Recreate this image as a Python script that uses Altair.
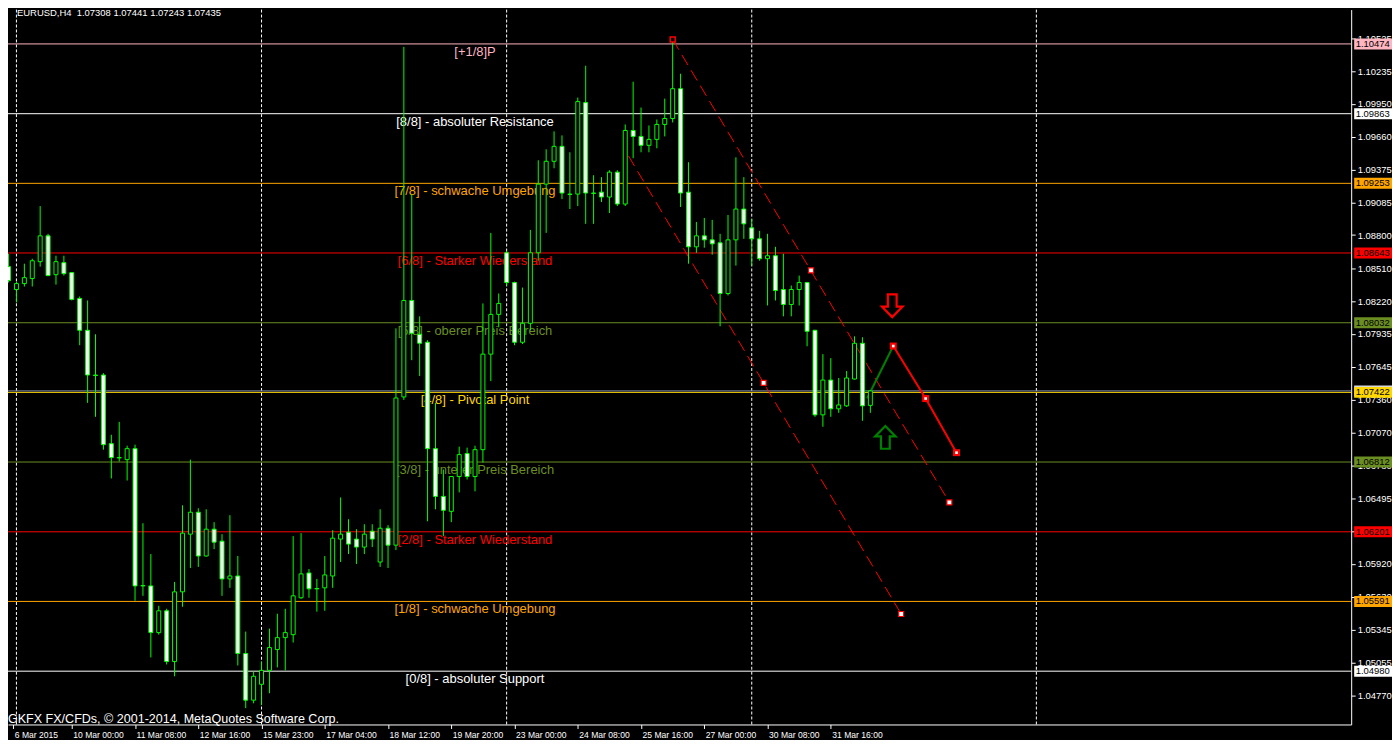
import altair as alt
import pandas as pd

# ---------------- data ----------------
opens = [1.08523, 1.08323, 1.08375, 1.08419, 1.08567, 1.08793, 1.08453, 1.08558, 1.08471, 1.08244,
         1.07966, 1.07574, 1.07574, 1.06973, 1.06851, 1.06833, 1.06929, 1.05727, 1.05727, 1.05318,
         1.05509, 1.05065, 1.05675, 1.06180, 1.06372, 1.05989, 1.06224, 1.06119, 1.05788, 1.05814,
         1.05135, 1.04726, 1.04865, 1.04987, 1.05170, 1.05274, 1.05300, 1.05623, 1.05840, 1.05701,
         1.05710, 1.05814, 1.06137, 1.06198, 1.06137, 1.06067, 1.06206, 1.05936, 1.06232, 1.06084,
         1.07382, 1.08227, 1.07931, 1.07861, 1.06929, 1.06511, 1.06380, 1.06685, 1.06886, 1.06685,
         1.06920, 1.07757, 1.08105, 1.08645, 1.08384, 1.07861, 1.08027, 1.08645, 1.09246, 1.09446,
         1.09577, 1.09159, 1.09159, 1.09960, 1.09168, 1.09176, 1.09133, 1.09351, 1.09072, 1.09716,
         1.09664, 1.09586, 1.09638, 1.09769, 1.09821, 1.10082, 1.09176, 1.08697, 1.08793, 1.08758,
         1.08732, 1.08288, 1.08758, 1.09028, 1.08863, 1.08767, 1.08593, 1.08619, 1.08323, 1.08192,
         1.08323, 1.08384, 1.07966, 1.07225, 1.07530, 1.07278, 1.07304, 1.07539, 1.07852, 1.07308]
highs = [1.08636, 1.08392, 1.08549, 1.08593, 1.09054, 1.08811, 1.08619, 1.08619, 1.08475, 1.08262,
         1.08227, 1.07931, 1.07591, 1.07051, 1.07164, 1.06955, 1.06964, 1.06276, 1.06006, 1.05553,
         1.05527, 1.05762, 1.06433, 1.06833, 1.06407, 1.06398, 1.06285, 1.06180, 1.06346, 1.05989,
         1.05327, 1.04978, 1.05065, 1.05353, 1.05483, 1.05527, 1.06163, 1.06189, 1.05875, 1.05788,
         1.05989, 1.06215, 1.06502, 1.06311, 1.06224, 1.06267, 1.06267, 1.06398, 1.06259, 1.07983,
         1.10448, 1.09159, 1.08088, 1.07879, 1.07330, 1.06746, 1.06690, 1.06947, 1.06938, 1.06955,
         1.08201, 1.08819, 1.08288, 1.08662, 1.08392, 1.08340, 1.08845, 1.09455, 1.09551, 1.09708,
         1.09673, 1.09525, 1.10004, 1.10283, 1.09324, 1.09307, 1.09368, 1.09368, 1.09769, 1.10143,
         1.09917, 1.09760, 1.09812, 1.09995, 1.10513, 1.10213, 1.09438, 1.08915, 1.08950, 1.08933,
         1.08811, 1.08976, 1.09481, 1.09307, 1.08941, 1.08837, 1.08811, 1.08697, 1.08636, 1.08358,
         1.08445, 1.08390, 1.07970, 1.07757, 1.07722, 1.07548, 1.07609, 1.07913, 1.07905, 1.07441]
lows = [1.08384, 1.08210, 1.08349, 1.08349, 1.08523, 1.08440, 1.08366, 1.08445, 1.08227, 1.07835,
        1.07330, 1.07208, 1.06920, 1.06668, 1.06816, 1.06650, 1.05597, 1.05640, 1.05100, 1.05300,
        1.05039, 1.04935, 1.05544, 1.05884, 1.05893, 1.05985, 1.06049, 1.05640, 1.05710, 1.05030,
        1.04656, 1.04699, 1.04682, 1.04787, 1.05013, 1.04987, 1.05231, 1.05614, 1.05623, 1.05501,
        1.05509, 1.05710, 1.05936, 1.06006, 1.05919, 1.06006, 1.06067, 1.05893, 1.05884, 1.06041,
        1.07356, 1.07704, 1.07565, 1.06293, 1.06398, 1.06163, 1.06285, 1.06546, 1.06659, 1.06555,
        1.06807, 1.07521, 1.07992, 1.08358, 1.07835, 1.07845, 1.07966, 1.08575, 1.08819, 1.09385,
        1.09115, 1.09028, 1.09054, 1.08898, 1.08898, 1.09089, 1.08993, 1.09054, 1.09054, 1.09473,
        1.09525, 1.09525, 1.09560, 1.09664, 1.09786, 1.09046, 1.08549, 1.08645, 1.08689, 1.08628,
        1.08001, 1.08271, 1.08532, 1.08767, 1.08532, 1.08575, 1.08183, 1.08227, 1.08088, 1.08088,
        1.08183, 1.07826, 1.07208, 1.07121, 1.07208, 1.07243, 1.07295, 1.07535, 1.07173, 1.07243]
closes = [1.08401, 1.08375, 1.08427, 1.08575, 1.08793, 1.08445, 1.08567, 1.08462, 1.08236, 1.07966,
          1.07574, 1.07570, 1.06964, 1.06851, 1.06848, 1.06929, 1.05727, 1.05730, 1.05318, 1.05509,
          1.05065, 1.05675, 1.06189, 1.06372, 1.05989, 1.06224, 1.06110, 1.05788, 1.05814, 1.05135,
          1.04726, 1.04935, 1.04987, 1.05187, 1.05274, 1.05318, 1.05640, 1.05832, 1.05701, 1.05704,
          1.05823, 1.06145, 1.06180, 1.06093, 1.06067, 1.06180, 1.06137, 1.06232, 1.06084, 1.07373,
          1.08227, 1.07940, 1.07852, 1.06929, 1.06511, 1.06389, 1.06685, 1.06877, 1.06685, 1.06920,
          1.07757, 1.08105, 1.08201, 1.08384, 1.07861, 1.08027, 1.08645, 1.09246, 1.09446, 1.09577,
          1.09168, 1.09156, 1.09969, 1.09168, 1.09165, 1.09133, 1.09351, 1.09072, 1.09716, 1.09664,
          1.09586, 1.09638, 1.09769, 1.09821, 1.10082, 1.09168, 1.08697, 1.08793, 1.08758, 1.08723,
          1.08288, 1.08758, 1.09028, 1.08898, 1.08767, 1.08593, 1.08619, 1.08314, 1.08192, 1.08323,
          1.08384, 1.07957, 1.07225, 1.07530, 1.07278, 1.07312, 1.07548, 1.07852, 1.07304, 1.07435]

x_tick_bars = [0.6, 8, 16, 24, 32, 40, 48, 56, 64, 72, 80, 88, 96, 104]
x_tick_labels = ["6 Mar 2015", "10 Mar 00:00", "11 Mar 08:00", "12 Mar 16:00", "15 Mar 23:00",
                 "17 Mar 04:00", "18 Mar 12:00", "19 Mar 20:00", "23 Mar 00:00", "24 Mar 08:00",
                 "25 Mar 16:00", "27 Mar 00:00", "30 Mar 08:00", "31 Mar 16:00"]
y_tick_values = [1.10525, 1.10235, 1.09950, 1.09660, 1.09375, 1.09085, 1.08800, 1.08510, 1.08220,
                 1.07935, 1.07645, 1.07360, 1.07070, 1.06780, 1.06495, 1.06205, 1.05920, 1.05630,
                 1.05345, 1.05055, 1.04770]

level_prices = [1.10474, 1.09863, 1.09253, 1.08643, 1.08032, 1.07422, 1.06812, 1.06201, 1.05591, 1.04980]
level_names = ["[+1/8]P", "[8/8] - absoluter Resistance", "[7/8] - schwache Umgebung",
               "[6/8] - Starker Wiederstand", "[5/8] - oberer Preis Bereich", "[4/8] - Pivotal Point",
               "[3/8] - unterer Preis Bereich", "[2/8] - Starker Wiederstand", "[1/8] - schwache Umgebung",
               "[0/8] - absoluter Support"]
level_colors = ["#FFB6C1", "#FFFFFF", "#FFA500", "#FF0000", "#6B8E23", "#FFD700", "#6B8E23",
                "#FF0000", "#FFA500", "#FFFFFF"]
bid_price = 1.07435

separator_bars = [1, 32, 63, 94, 130]

channel_line_ids = ["upper", "upper", "lower", "lower"]
channel_bars = [84, 119, 78.4, 112.9]
channel_prices = [1.10513, 1.06458, 1.09494, 1.05481]
channel_marker_bars = [101.5, 95.5, 119, 112.9]
channel_marker_prices = [1.08491, 1.07505, 1.06458, 1.05481]
channel_start_bar = [84]
channel_start_price = [1.10513]

proj_up_bars = [108.6, 111.9]
proj_up_prices = [1.07371, 1.07828]
proj_down_bars = [111.9, 116.0, 119.9]
proj_down_prices = [1.07828, 1.07368, 1.06894]

arrow_bars = [111.77, 110.9]
arrow_prices = [1.08180, 1.07029]
arrow_dirs = ["down", "up"]

title_text = "EURUSD,H4 \u00a01.07308 1.07441 1.07243 1.07435"
copyright_text = "GKFX FX/CFDs, \u00a9 2001-2014, MetaQuotes Software Corp."

# ---------------- layout ----------------
W = 1349
H = 718
SANS = "Liberation Sans, Arial"
LIME = "#00FF00"

xs = alt.Scale(domain=[0.5625, 0.5625 + W / 8.0], nice=False, zero=False)
ys = alt.Scale(domain=[1.045132, 1.107749], nice=False, zero=False)

label_expr = "[" + ",".join("'" + s + "'" for s in x_tick_labels) + "][round(datum.value/8)]"
x_axis = alt.Axis(values=x_tick_bars, labelExpr=label_expr, orient="bottom", grid=False,
                  domainColor="#FFFFFF", tickColor="#FFFFFF", labelColor="#FFFFFF",
                  tickSize=4, labelAlign="left", labelBaseline="top", labelPadding=2,
                  labelOffset=1, labelFont=SANS, labelFontSize=8.6, labelFlush=False,
                  labelOverlap=False, labelBound=False, title=None)
y_axis = alt.Axis(values=y_tick_values, format=".5f", orient="right", grid=False,
                  domainColor="#FFFFFF", tickColor="#FFFFFF", labelColor="#FFFFFF",
                  tickSize=4, labelPadding=2, labelFont=SANS, labelFontSize=9.5,
                  labelOverlap=False, labelBound=False, labelFlush=False, title=None)


def X(f):
    return alt.X(f, type="quantitative", scale=xs, axis=x_axis, title=None)


def Y(f):
    return alt.Y(f, type="quantitative", scale=ys, axis=y_axis, title=None)


candles = pd.DataFrame({"bar": list(range(len(opens))), "open": opens, "high": highs,
                        "low": lows, "close": closes})
levels = pd.DataFrame({"price": level_prices, "name": level_names, "color": level_colors})
seps = pd.DataFrame({"bar": separator_bars})
chan = pd.DataFrame({"bar": channel_bars, "price": channel_prices, "line": channel_line_ids})
chan_m = pd.DataFrame({"bar": channel_marker_bars, "price": channel_marker_prices})
chan_s = pd.DataFrame({"bar": channel_start_bar, "price": channel_start_price})
p_up = pd.DataFrame({"bar": proj_up_bars, "price": proj_up_prices})
p_dn = pd.DataFrame({"bar": proj_down_bars, "price": proj_down_prices})
arrows = pd.DataFrame({"bar": arrow_bars, "price": arrow_prices, "dir": arrow_dirs})
boxes = pd.DataFrame({"price": [bid_price] + level_prices,
                      "color": ["#D8D8D8"] + level_colors})

DOWN_ARROW = "M-0.42,-1.1 L0.42,-1.1 L0.42,0.08 L0.98,0.08 L0,1.08 L-0.98,0.08 L-0.42,0.08 Z"
UP_ARROW = "M-0.42,1.1 L0.42,1.1 L0.42,-0.08 L0.98,-0.08 L0,-1.08 L-0.98,-0.08 L-0.42,-0.08 Z"

sep_layer = alt.Chart(seps).mark_rule(color="#FFFFFF", strokeDash=[3, 2], strokeWidth=1).encode(
    x=X("bar"))
level_lines = alt.Chart(levels).mark_rule(strokeWidth=1).encode(
    y=Y("price"), color=alt.Color("color:N", scale=None))
bid_line = alt.Chart(pd.DataFrame({"price": [bid_price]})).mark_rule(
    color="#8492A6", strokeWidth=1).encode(y=Y("price"))
level_text = alt.Chart(levels).mark_text(align="center", baseline="middle", dy=8, font=SANS,
                                         fontSize=13).encode(
    x=alt.datum(59, scale=xs), y=Y("price"), text="name:N", color=alt.Color("color:N", scale=None))

chan_layer = alt.Chart(chan).mark_line(color="#FF0000", strokeWidth=1, strokeDash=[12, 6]).encode(
    x=X("bar"), y=Y("price"), detail="line:N")
up_layer = alt.Chart(p_up).mark_line(color="#008000", strokeWidth=2).encode(x=X("bar"), y=Y("price"))
dn_layer = alt.Chart(p_dn).mark_line(color="#FF0000", strokeWidth=2).encode(x=X("bar"), y=Y("price"))

wicks = alt.Chart(candles).mark_rule(color=LIME, strokeWidth=1, clip=True).encode(
    x=X("bar"), y=Y("low"), y2=alt.Y2("high"))
bodies = alt.Chart(candles).mark_bar(width=4, stroke=LIME, strokeWidth=1, clip=True).encode(
    x=X("bar"), y=Y("open"), y2=alt.Y2("close"),
    fill=alt.condition("datum.close < datum.open", alt.value("#FFFFFF"), alt.value("#000000")))

chan_marks = alt.Chart(chan_m).mark_square(size=25, filled=True, fill="#FFFFFF", stroke="#FF0000",
                                           strokeWidth=1.2, opacity=1).encode(x=X("bar"), y=Y("price"))
top_mark = alt.Chart(chan_s).mark_square(
    size=25, filled=True, fill="#000000", stroke="#FF0000", strokeWidth=1.5, opacity=1).encode(
    x=X("bar"), y=Y("price"))
p_dn_marks = alt.Chart(p_dn).mark_square(size=49, filled=True, color="#FF0000", opacity=1).encode(
    x=X("bar"), y=Y("price"))
p_dn_dots = alt.Chart(p_dn).mark_square(size=7, filled=True, color="#FFFFFF", opacity=1).encode(
    x=X("bar"), y=Y("price"))
arrow_down = alt.Chart(arrows).transform_filter("datum.dir == 'down'").mark_point(
    shape=DOWN_ARROW, size=440, filled=False, color="#FF0000", strokeWidth=2.2, opacity=1).encode(
    x=X("bar"), y=Y("price"))
arrow_up = alt.Chart(arrows).transform_filter("datum.dir == 'up'").mark_point(
    shape=UP_ARROW, size=440, filled=False, color="#008000", strokeWidth=2.2, opacity=1).encode(
    x=X("bar"), y=Y("price"))

title_layer = alt.Chart(pd.DataFrame({"t": [title_text]})).mark_text(
    align="left", baseline="alphabetic", font=SANS, fontSize=9.5, color="#FFFFFF").encode(
    x=alt.value(9), y=alt.value(6.5), text="t:N")
copy_layer = alt.Chart(pd.DataFrame({"t": [copyright_text]})).mark_text(
    align="left", baseline="alphabetic", font=SANS, fontSize=12.6, color="#FFFFFF").encode(
    x=alt.value(0), y=alt.value(H - 1), text="t:N")

box_layer = alt.Chart(boxes).transform_calculate(
    top="datum.price + 0.00048", bot="datum.price - 0.00048").mark_rect().encode(
    x=alt.value(W + 3), x2=alt.value(W + 41), y=Y("top"), y2=alt.Y2("bot"),
    color=alt.Color("color:N", scale=None))
box_text = alt.Chart(levels).transform_calculate(lbl="format(datum.price, '.5f')").mark_text(
    align="left", baseline="middle", font=SANS, fontSize=9.5, color="#000000").encode(
    x=alt.value(W + 4.5), y=Y("price"), text="lbl:N")

chart = alt.layer(
    sep_layer, level_lines, bid_line, level_text, chan_layer, up_layer, dn_layer,
    wicks, bodies, chan_marks, top_mark, p_dn_marks, p_dn_dots, arrow_down, arrow_up,
    title_layer, copy_layer, box_layer, box_text
).properties(
    width=W, height=H,
    autosize=alt.AutoSizeParams(type="none"),
    padding={"left": 0, "top": 0, "right": 41, "bottom": 14},
    background="#000000"
).configure_view(stroke=None)

chart.save("out.html", embed_options={"renderer": "svg", "actions": False})
